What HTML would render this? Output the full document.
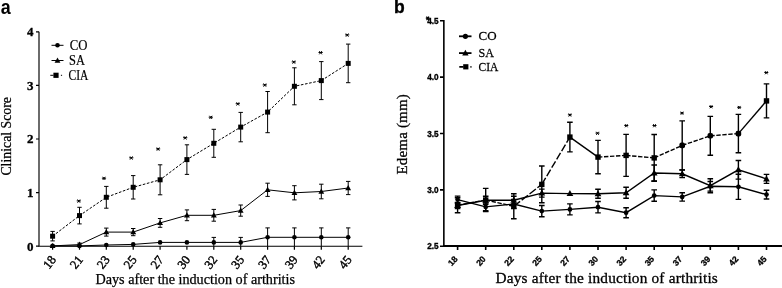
<!DOCTYPE html>
<html><head><meta charset="utf-8"><title>Figure</title>
<style>html,body{margin:0;padding:0;background:#fff;}body{width:782px;height:288px;overflow:hidden;font-family:"Liberation Sans",sans-serif;}svg{display:block;filter:grayscale(1);}</style>
</head><body>
<svg width="782" height="288" viewBox="0 0 782 288">
<rect width="782" height="288" fill="#fff"/>
<text transform="translate(0.8,14.1) scale(0.92,1)" font-family="Liberation Sans" font-weight="bold" font-size="19.5">a</text>
<text x="394" y="13.4" font-family="Liberation Sans" font-weight="bold" font-size="17.5" stroke="#000" stroke-width="0.35">b</text>
<g id="left">
<path d="M39.0 31.7V246.2H362.4" fill="none" stroke="#000" stroke-width="1.15"/>
<text transform="translate(33.6,250.6) scale(1.04,1.07)" font-family="Liberation Serif" font-weight="bold" font-size="12.5" stroke="#000" stroke-width="0.3" text-anchor="end">0</text>
<text transform="translate(33.6,197.0) scale(1.04,1.07)" font-family="Liberation Serif" font-weight="bold" font-size="12.5" stroke="#000" stroke-width="0.3" text-anchor="end">1</text>
<text transform="translate(33.6,143.4) scale(1.04,1.07)" font-family="Liberation Serif" font-weight="bold" font-size="12.5" stroke="#000" stroke-width="0.3" text-anchor="end">2</text>
<text transform="translate(33.6,89.8) scale(1.04,1.07)" font-family="Liberation Serif" font-weight="bold" font-size="12.5" stroke="#000" stroke-width="0.3" text-anchor="end">3</text>
<text transform="translate(33.6,36.2) scale(1.04,1.07)" font-family="Liberation Serif" font-weight="bold" font-size="12.5" stroke="#000" stroke-width="0.3" text-anchor="end">4</text>
<path d="M36.0 246.2H39.0M36.0 192.6H39.0M36.0 139.0H39.0M36.0 85.4H39.0M36.0 31.8H39.0M52.6 246.2V249.7M79.5 246.2V249.7M106.3 246.2V249.7M133.2 246.2V249.7M160.1 246.2V249.7M186.9 246.2V249.7M213.8 246.2V249.7M240.7 246.2V249.7M267.6 246.2V249.7M294.4 246.2V249.7M321.3 246.2V249.7M348.2 246.2V249.7" fill="none" stroke="#000" stroke-width="1.2"/>
<text transform="translate(56.7,259.8) rotate(-52)" font-family="Liberation Serif" font-size="12.6" stroke="#000" stroke-width="0.4" text-anchor="end">18</text>
<text transform="translate(83.6,259.8) rotate(-52)" font-family="Liberation Serif" font-size="12.6" stroke="#000" stroke-width="0.4" text-anchor="end">21</text>
<text transform="translate(110.4,259.8) rotate(-52)" font-family="Liberation Serif" font-size="12.6" stroke="#000" stroke-width="0.4" text-anchor="end">23</text>
<text transform="translate(137.3,259.8) rotate(-52)" font-family="Liberation Serif" font-size="12.6" stroke="#000" stroke-width="0.4" text-anchor="end">25</text>
<text transform="translate(164.2,259.8) rotate(-52)" font-family="Liberation Serif" font-size="12.6" stroke="#000" stroke-width="0.4" text-anchor="end">27</text>
<text transform="translate(191.0,259.8) rotate(-52)" font-family="Liberation Serif" font-size="12.6" stroke="#000" stroke-width="0.4" text-anchor="end">30</text>
<text transform="translate(217.9,259.8) rotate(-52)" font-family="Liberation Serif" font-size="12.6" stroke="#000" stroke-width="0.4" text-anchor="end">32</text>
<text transform="translate(244.8,259.8) rotate(-52)" font-family="Liberation Serif" font-size="12.6" stroke="#000" stroke-width="0.4" text-anchor="end">35</text>
<text transform="translate(271.7,259.8) rotate(-52)" font-family="Liberation Serif" font-size="12.6" stroke="#000" stroke-width="0.4" text-anchor="end">37</text>
<text transform="translate(298.5,259.8) rotate(-52)" font-family="Liberation Serif" font-size="12.6" stroke="#000" stroke-width="0.4" text-anchor="end">39</text>
<text transform="translate(325.4,259.8) rotate(-52)" font-family="Liberation Serif" font-size="12.6" stroke="#000" stroke-width="0.4" text-anchor="end">42</text>
<text transform="translate(352.3,259.8) rotate(-52)" font-family="Liberation Serif" font-size="12.6" stroke="#000" stroke-width="0.4" text-anchor="end">45</text>
<text x="95.5" y="284.0" font-family="Liberation Serif" font-size="14.2" stroke="#000" stroke-width="0.25" textLength="199.5" lengthAdjust="spacing">Days after the induction of arthritis</text>
<text transform="translate(10.6,175.6) rotate(-90)" font-family="Liberation Serif" font-size="13.8" stroke="#000" stroke-width="0.25" textLength="78.6" lengthAdjust="spacing">Clinical Score</text>
<path d="M51.5 45.3H63.5" stroke="#000" stroke-width="1.0" fill="none"/>
<circle cx="57.5" cy="45.3" r="2.3"/>
<text transform="translate(69.8,49.5) scale(0.95,1.02)" font-family="Liberation Serif" font-size="13.4" stroke="#000" stroke-width="0.2">CO</text>
<path d="M51.5 60.5H63.5" stroke="#000" stroke-width="1.0" fill="none"/>
<path d="M57.5 57.5L60.4 62.7H54.6Z"/>
<text transform="translate(69.0,64.7) scale(0.925,1.02)" font-family="Liberation Serif" font-size="13.4" stroke="#000" stroke-width="0.2">SA</text>
<path d="M50.3 75.3H53.5M60.9 75.3H62.1" stroke="#000" stroke-width="1.0" fill="none"/>
<rect x="53.4" y="72.7" width="5.2" height="5.2"/>
<text transform="translate(68.5,79.5) scale(0.86,1.02)" font-family="Liberation Serif" font-size="13.4" stroke="#000" stroke-width="0.2">CIA</text>
<polyline points="52.6,245.9 79.5,245.9 106.3,245.0 133.2,244.4 160.1,242.4 186.9,242.4 213.8,242.4 240.7,242.4 267.6,237.3 294.4,237.3 321.3,237.3 348.2,237.3" fill="none" stroke="#000" stroke-width="1.0"/>
<path d="M213.8 237.4V246.2M211.6 237.4H216.0M240.7 237.4V246.2M238.5 237.4H242.9M267.6 227.9V246.2M265.4 227.9H269.8M294.4 227.9V246.2M292.2 227.9H296.6M321.3 227.9V246.2M319.1 227.9H323.5M348.2 227.9V246.2M346.0 227.9H350.4" fill="none" stroke="#000" stroke-width="1.0"/>
<circle cx="52.6" cy="245.9" r="2.3"/>
<circle cx="79.5" cy="245.9" r="2.3"/>
<circle cx="106.3" cy="245.0" r="2.3"/>
<circle cx="133.2" cy="244.4" r="2.3"/>
<circle cx="160.1" cy="242.4" r="2.3"/>
<circle cx="186.9" cy="242.4" r="2.3"/>
<circle cx="213.8" cy="242.4" r="2.3"/>
<circle cx="240.7" cy="242.4" r="2.3"/>
<circle cx="267.6" cy="237.3" r="2.3"/>
<circle cx="294.4" cy="237.3" r="2.3"/>
<circle cx="321.3" cy="237.3" r="2.3"/>
<circle cx="348.2" cy="237.3" r="2.3"/>
<polyline points="52.6,245.9 79.5,244.6 106.3,232.1 133.2,232.1 160.1,222.9 186.9,215.3 213.8,215.3 240.7,210.6 267.6,189.8 294.4,192.8 321.3,191.5 348.2,188.0" fill="none" stroke="#000" stroke-width="1.0"/>
<path d="M52.6 245.4V246.2M50.4 245.4H54.8M79.5 243.1V246.2M77.3 243.1H81.7M106.3 228.1V236.1M104.1 228.1H108.5M104.1 236.1H108.5M133.2 228.5V235.7M131.0 228.5H135.4M131.0 235.7H135.4M160.1 218.5V227.3M157.9 218.5H162.3M157.9 227.3H162.3M186.9 209.9V220.7M184.8 209.9H189.1M184.8 220.7H189.1M213.8 209.4V221.2M211.6 209.4H216.0M211.6 221.2H216.0M240.7 205.0V216.2M238.5 205.0H242.9M238.5 216.2H242.9M267.6 183.2V196.4M265.4 183.2H269.8M265.4 196.4H269.8M294.4 185.7V199.9M292.2 185.7H296.6M292.2 199.9H296.6M321.3 184.2V198.8M319.1 184.2H323.5M319.1 198.8H323.5M348.2 181.4V194.6M346.0 181.4H350.4M346.0 194.6H350.4" fill="none" stroke="#000" stroke-width="1.0"/>
<path d="M52.6 242.9L55.5 248.1H49.7Z"/>
<path d="M79.5 241.6L82.4 246.8H76.5Z"/>
<path d="M106.3 229.1L109.3 234.3H103.4Z"/>
<path d="M133.2 229.1L136.2 234.3H130.3Z"/>
<path d="M160.1 219.9L163.0 225.1H157.1Z"/>
<path d="M186.9 212.3L189.9 217.5H184.0Z"/>
<path d="M213.8 212.3L216.8 217.5H210.9Z"/>
<path d="M240.7 207.6L243.6 212.8H237.8Z"/>
<path d="M267.6 186.8L270.5 192.0H264.6Z"/>
<path d="M294.4 189.8L297.4 195.0H291.5Z"/>
<path d="M321.3 188.5L324.2 193.7H318.4Z"/>
<path d="M348.2 185.0L351.1 190.2H345.2Z"/>
<polyline points="52.6,236.2 79.5,215.6 106.3,197.3 133.2,187.3 160.1,179.8 186.9,159.6 213.8,143.3 240.7,127.1 267.6,112.1 294.4,86.3 321.3,80.6 348.2,63.4" fill="none" stroke="#000" stroke-width="1.0" stroke-dasharray="2.6 1.6"/>
<path d="M52.6 231.4V240.9M50.4 231.4H54.8M50.4 240.9H54.8M79.5 207.3V223.9M77.3 207.3H81.7M77.3 223.9H81.7M106.3 186.4V208.2M104.1 186.4H108.5M104.1 208.2H108.5M133.2 175.6V199.0M131.0 175.6H135.4M131.0 199.0H135.4M160.1 164.8V194.8M157.9 164.8H162.3M157.9 194.8H162.3M186.9 144.8V174.4M184.8 144.8H189.1M184.8 174.4H189.1M213.8 129.3V157.3M211.6 129.3H216.0M211.6 157.3H216.0M240.7 112.4V141.8M238.5 112.4H242.9M238.5 141.8H242.9M267.6 91.5V132.7M265.4 91.5H269.8M265.4 132.7H269.8M294.4 67.8V104.8M292.2 67.8H296.6M292.2 104.8H296.6M321.3 61.6V99.6M319.1 61.6H323.5M319.1 99.6H323.5M348.2 44.1V82.7M346.0 44.1H350.4M346.0 82.7H350.4" fill="none" stroke="#000" stroke-width="1.0"/>
<rect x="50.1" y="233.7" width="5" height="5"/>
<rect x="77.0" y="213.1" width="5" height="5"/>
<rect x="103.8" y="194.8" width="5" height="5"/>
<rect x="130.7" y="184.8" width="5" height="5"/>
<rect x="157.6" y="177.3" width="5" height="5"/>
<rect x="184.4" y="157.1" width="5" height="5"/>
<rect x="211.3" y="140.8" width="5" height="5"/>
<rect x="238.2" y="124.6" width="5" height="5"/>
<rect x="265.1" y="109.6" width="5" height="5"/>
<rect x="291.9" y="83.8" width="5" height="5"/>
<rect x="318.8" y="78.1" width="5" height="5"/>
<rect x="345.7" y="60.9" width="5" height="5"/>
<path d="M76.70 200.90H80.90M77.50 202.70L80.10 199.50M77.50 199.50L80.10 202.70" fill="none" stroke="#000" stroke-width="1.0"/>
<path d="M101.90 178.20H106.10M102.70 180.00L105.30 176.80M102.70 176.80L105.30 180.00" fill="none" stroke="#000" stroke-width="1.0"/>
<path d="M129.20 157.80H133.40M130.00 159.60L132.60 156.40M130.00 156.40L132.60 159.60" fill="none" stroke="#000" stroke-width="1.0"/>
<path d="M156.00 148.90H160.20M156.80 150.70L159.40 147.50M156.80 147.50L159.40 150.70" fill="none" stroke="#000" stroke-width="1.0"/>
<path d="M183.10 137.70H187.30M183.90 139.50L186.50 136.30M183.90 136.30L186.50 139.50" fill="none" stroke="#000" stroke-width="1.0"/>
<path d="M208.70 117.20H212.90M209.50 119.00L212.10 115.80M209.50 115.80L212.10 119.00" fill="none" stroke="#000" stroke-width="1.0"/>
<path d="M235.70 103.70H239.90M236.50 105.50L239.10 102.30M236.50 102.30L239.10 105.50" fill="none" stroke="#000" stroke-width="1.0"/>
<path d="M262.70 84.90H266.90M263.50 86.70L266.10 83.50M263.50 83.50L266.10 86.70" fill="none" stroke="#000" stroke-width="1.0"/>
<path d="M291.70 61.90H295.90M292.50 63.70L295.10 60.50M292.50 60.50L295.10 63.70" fill="none" stroke="#000" stroke-width="1.0"/>
<path d="M318.50 52.50H322.70M319.30 54.30L321.90 51.10M319.30 51.10L321.90 54.30" fill="none" stroke="#000" stroke-width="1.0"/>
<path d="M345.10 34.90H349.30M345.90 36.70L348.50 33.50M345.90 33.50L348.50 36.70" fill="none" stroke="#000" stroke-width="1.0"/>
</g>
<g id="right">
<path d="M443.85 20.1V247.0" fill="none" stroke="#000" stroke-width="1.6"/>
<path d="M443.05 246.0H782" fill="none" stroke="#000" stroke-width="2.1"/>
<text transform="translate(438.6,249.3) scale(0.93,1)" font-family="Liberation Sans" font-weight="bold" font-size="8.8" stroke="#000" stroke-width="0.35" text-anchor="end">2.5</text>
<text transform="translate(438.6,192.9) scale(0.93,1)" font-family="Liberation Sans" font-weight="bold" font-size="8.8" stroke="#000" stroke-width="0.35" text-anchor="end">3.0</text>
<text transform="translate(438.6,136.5) scale(0.93,1)" font-family="Liberation Sans" font-weight="bold" font-size="8.8" stroke="#000" stroke-width="0.35" text-anchor="end">3.5</text>
<text transform="translate(438.6,80.1) scale(0.93,1)" font-family="Liberation Sans" font-weight="bold" font-size="8.8" stroke="#000" stroke-width="0.35" text-anchor="end">4.0</text>
<text transform="translate(438.6,23.7) scale(0.93,1)" font-family="Liberation Sans" font-weight="bold" font-size="8.8" stroke="#000" stroke-width="0.35" text-anchor="end">4.5</text>
<path d="M440.0 246.3H444.0M440.0 189.9H444.0M440.0 133.5H444.0M440.0 77.1H444.0M440.0 20.7H444.0M457.6 246.0V250.0M485.7 246.0V250.0M513.8 246.0V250.0M541.8 246.0V250.0M569.9 246.0V250.0M598.0 246.0V250.0M626.1 246.0V250.0M654.2 246.0V250.0M682.2 246.0V250.0M710.3 246.0V250.0M738.4 246.0V250.0M766.5 246.0V250.0" fill="none" stroke="#000" stroke-width="1.6"/>
<path d="M425.80 18.10H429.60M426.52 20.10L428.88 16.50M426.52 16.50L428.88 20.10" fill="none" stroke="#000" stroke-width="1.1"/>
<text transform="translate(458.2,259.5) rotate(-48)" font-family="Liberation Sans" font-weight="bold" font-size="8.6" stroke="#000" stroke-width="0.3" text-anchor="end">18</text>
<text transform="translate(486.3,259.5) rotate(-48)" font-family="Liberation Sans" font-weight="bold" font-size="8.6" stroke="#000" stroke-width="0.3" text-anchor="end">20</text>
<text transform="translate(514.4,259.5) rotate(-48)" font-family="Liberation Sans" font-weight="bold" font-size="8.6" stroke="#000" stroke-width="0.3" text-anchor="end">22</text>
<text transform="translate(542.4,259.5) rotate(-48)" font-family="Liberation Sans" font-weight="bold" font-size="8.6" stroke="#000" stroke-width="0.3" text-anchor="end">25</text>
<text transform="translate(570.5,259.5) rotate(-48)" font-family="Liberation Sans" font-weight="bold" font-size="8.6" stroke="#000" stroke-width="0.3" text-anchor="end">27</text>
<text transform="translate(598.6,259.5) rotate(-48)" font-family="Liberation Sans" font-weight="bold" font-size="8.6" stroke="#000" stroke-width="0.3" text-anchor="end">30</text>
<text transform="translate(626.7,259.5) rotate(-48)" font-family="Liberation Sans" font-weight="bold" font-size="8.6" stroke="#000" stroke-width="0.3" text-anchor="end">32</text>
<text transform="translate(654.8,259.5) rotate(-48)" font-family="Liberation Sans" font-weight="bold" font-size="8.6" stroke="#000" stroke-width="0.3" text-anchor="end">35</text>
<text transform="translate(682.8,259.5) rotate(-48)" font-family="Liberation Sans" font-weight="bold" font-size="8.6" stroke="#000" stroke-width="0.3" text-anchor="end">37</text>
<text transform="translate(710.9,259.5) rotate(-48)" font-family="Liberation Sans" font-weight="bold" font-size="8.6" stroke="#000" stroke-width="0.3" text-anchor="end">39</text>
<text transform="translate(739.0,259.5) rotate(-48)" font-family="Liberation Sans" font-weight="bold" font-size="8.6" stroke="#000" stroke-width="0.3" text-anchor="end">42</text>
<text transform="translate(767.1,259.5) rotate(-48)" font-family="Liberation Sans" font-weight="bold" font-size="8.6" stroke="#000" stroke-width="0.3" text-anchor="end">45</text>
<text x="495.5" y="283.4" font-family="Liberation Serif" font-size="15.3" stroke="#000" stroke-width="0.3" textLength="222.3" lengthAdjust="spacing">Days after the induction of arthritis</text>
<text transform="translate(407.4,174.6) rotate(-90)" font-family="Liberation Serif" font-size="15" stroke="#000" stroke-width="0.3" textLength="80.4" lengthAdjust="spacing">Edema (mm)</text>
<path d="M459 36.3H471.5" stroke="#000" stroke-width="1.8" fill="none"/>
<circle cx="465.4" cy="36.3" r="2.6"/>
<text transform="translate(478.5,40.1) scale(1.0,1.03)" font-family="Liberation Serif" font-size="13" stroke="#000" stroke-width="0.25">CO</text>
<path d="M459 53.1H471.5" stroke="#000" stroke-width="1.8" fill="none"/>
<path d="M465.4 49.8L468.6 55.5H462.2Z"/>
<text transform="translate(478.5,57.4) scale(0.93,1.03)" font-family="Liberation Serif" font-size="13" stroke="#000" stroke-width="0.25">SA</text>
<path d="M459.3 66.8H463.5M470.4 66.8H471.5" stroke="#000" stroke-width="1.8" fill="none"/>
<rect x="463.2" y="64.2" width="5.2" height="5.2"/>
<text transform="translate(478.5,71.1) scale(0.885,1.03)" font-family="Liberation Serif" font-size="13" stroke="#000" stroke-width="0.25">CIA</text>
<polyline points="457.6,199.6 485.7,206.9 513.8,204.0 541.8,211.1 569.9,209.4 598.0,207.2 626.1,212.7 654.2,195.6 682.2,196.9 710.3,186.3 738.4,186.8 766.5,194.6" fill="none" stroke="#000" stroke-width="1.4"/>
<path d="M457.6 196.1V203.1M454.8 196.1H460.4M454.8 203.1H460.4M485.7 203.1V210.7M482.9 203.1H488.5M482.9 210.7H488.5M513.8 199.5V208.5M511.0 199.5H516.6M511.0 208.5H516.6M541.8 205.5V216.7M539.0 205.5H544.6M539.0 216.7H544.6M569.9 203.9V214.9M567.1 203.9H572.7M567.1 214.9H572.7M598.0 201.5V212.9M595.2 201.5H600.8M595.2 212.9H600.8M626.1 207.7V217.7M623.3 207.7H628.9M623.3 217.7H628.9M654.2 189.9V201.3M651.4 189.9H657.0M651.4 201.3H657.0M682.2 192.7V201.1M679.4 192.7H685.0M679.4 201.1H685.0M710.3 181.5V191.1M707.5 181.5H713.1M707.5 191.1H713.1M738.4 174.2V199.4M735.6 174.2H741.2M735.6 199.4H741.2M766.5 190.2V199.0M763.7 190.2H769.3M763.7 199.0H769.3" fill="none" stroke="#000" stroke-width="1.4"/>
<circle cx="457.6" cy="199.6" r="2.35"/>
<circle cx="485.7" cy="206.9" r="2.35"/>
<circle cx="513.8" cy="204.0" r="2.35"/>
<circle cx="541.8" cy="211.1" r="2.35"/>
<circle cx="569.9" cy="209.4" r="2.35"/>
<circle cx="598.0" cy="207.2" r="2.35"/>
<circle cx="626.1" cy="212.7" r="2.35"/>
<circle cx="654.2" cy="195.6" r="2.35"/>
<circle cx="682.2" cy="196.9" r="2.35"/>
<circle cx="710.3" cy="186.3" r="2.35"/>
<circle cx="738.4" cy="186.8" r="2.35"/>
<circle cx="766.5" cy="194.6" r="2.35"/>
<polyline points="457.6,205.5 485.7,200.3 513.8,200.3 541.8,193.1 569.9,193.6 598.0,193.8 626.1,192.7 654.2,173.0 682.2,173.8 710.3,185.7 738.4,169.8 766.5,178.9" fill="none" stroke="#000" stroke-width="1.4"/>
<path d="M457.6 202.5V208.5M454.8 202.5H460.4M454.8 208.5H460.4M485.7 196.3V204.3M482.9 196.3H488.5M482.9 204.3H488.5M513.8 196.3V204.3M511.0 196.3H516.6M511.0 204.3H516.6M541.8 189.1V197.1M539.0 189.1H544.6M539.0 197.1H544.6M598.0 189.3V198.3M595.2 189.3H600.8M595.2 198.3H600.8M626.1 187.2V198.2M623.3 187.2H628.9M623.3 198.2H628.9M654.2 165.0V181.0M651.4 165.0H657.0M651.4 181.0H657.0M682.2 170.0V177.6M679.4 170.0H685.0M679.4 177.6H685.0M710.3 178.7V192.7M707.5 178.7H713.1M707.5 192.7H713.1M738.4 160.5V179.1M735.6 160.5H741.2M735.6 179.1H741.2M766.5 174.4V183.4M763.7 174.4H769.3M763.7 183.4H769.3" fill="none" stroke="#000" stroke-width="1.4"/>
<path d="M457.6 202.0L461.0 208.0H454.2Z"/>
<path d="M485.7 196.8L489.0 202.8H482.3Z"/>
<path d="M513.8 196.8L517.1 202.8H510.4Z"/>
<path d="M541.8 189.6L545.2 195.6H538.5Z"/>
<path d="M569.9 190.1L573.3 196.1H566.6Z"/>
<path d="M598.0 190.3L601.4 196.3H594.6Z"/>
<path d="M626.1 189.2L629.4 195.2H622.7Z"/>
<path d="M654.2 169.5L657.5 175.5H650.8Z"/>
<path d="M682.2 170.3L685.6 176.3H678.9Z"/>
<path d="M710.3 182.2L713.7 188.2H707.0Z"/>
<path d="M738.4 166.3L741.8 172.3H735.0Z"/>
<path d="M766.5 175.4L769.8 181.4H763.1Z"/>
<polyline points="457.6,205.2 485.7,200.0" fill="none" stroke="#000" stroke-width="1.4" stroke-dasharray="4.4 1.6"/>
<polyline points="485.7,200.0 513.8,206.3" fill="none" stroke="#000" stroke-width="1.4" stroke-dasharray="4.4 1.6"/>
<polyline points="513.8,206.3 541.8,184.4" fill="none" stroke="#000" stroke-width="1.4" stroke-dasharray="8 2"/>
<polyline points="541.8,184.4 569.9,137.1" fill="none" stroke="#000" stroke-width="1.4" stroke-dasharray="7.5 2.2"/>
<polyline points="569.9,137.1 598.0,157.1" fill="none" stroke="#000" stroke-width="1.4"/>
<polyline points="598.0,157.1 626.1,155.4" fill="none" stroke="#000" stroke-width="1.4" stroke-dasharray="4.4 1.6"/>
<polyline points="626.1,155.4 654.2,157.9" fill="none" stroke="#000" stroke-width="1.4" stroke-dasharray="4.4 1.6"/>
<polyline points="654.2,157.9 682.2,145.4" fill="none" stroke="#000" stroke-width="1.4" stroke-dasharray="4.4 1.6"/>
<polyline points="682.2,145.4 710.3,135.8" fill="none" stroke="#000" stroke-width="1.4" stroke-dasharray="4.4 1.6"/>
<polyline points="710.3,135.8 738.4,133.6" fill="none" stroke="#000" stroke-width="1.4" stroke-dasharray="4.4 1.6"/>
<polyline points="738.4,133.6 766.5,100.9" fill="none" stroke="#000" stroke-width="1.4"/>
<path d="M457.6 197.7V212.7M454.8 197.7H460.4M454.8 212.7H460.4M485.7 188.4V211.6M482.9 188.4H488.5M482.9 211.6H488.5M513.8 193.8V218.8M511.0 193.8H516.6M511.0 218.8H516.6M541.8 166.0V202.8M539.0 166.0H544.6M539.0 202.8H544.6M569.9 122.3V151.9M567.1 122.3H572.7M567.1 151.9H572.7M598.0 140.4V173.8M595.2 140.4H600.8M595.2 173.8H600.8M626.1 134.4V176.4M623.3 134.4H628.9M623.3 176.4H628.9M654.2 134.5V181.3M651.4 134.5H657.0M651.4 181.3H657.0M682.2 120.9V169.9M679.4 120.9H685.0M679.4 169.9H685.0M710.3 116.4V155.2M707.5 116.4H713.1M707.5 155.2H713.1M738.4 114.4V152.8M735.6 114.4H741.2M735.6 152.8H741.2M766.5 83.9V117.9M763.7 83.9H769.3M763.7 117.9H769.3" fill="none" stroke="#000" stroke-width="1.4"/>
<rect x="454.9" y="202.5" width="5.4" height="5.4"/>
<rect x="483.0" y="197.3" width="5.4" height="5.4"/>
<rect x="511.1" y="203.6" width="5.4" height="5.4"/>
<rect x="539.1" y="181.7" width="5.4" height="5.4"/>
<rect x="567.2" y="134.4" width="5.4" height="5.4"/>
<rect x="595.3" y="154.4" width="5.4" height="5.4"/>
<rect x="623.4" y="152.7" width="5.4" height="5.4"/>
<rect x="651.5" y="155.2" width="5.4" height="5.4"/>
<rect x="679.4" y="142.6" width="5.6" height="5.6" rx="2"/>
<rect x="707.5" y="133.0" width="5.6" height="5.6" rx="2"/>
<rect x="735.6" y="130.8" width="5.6" height="5.6" rx="2"/>
<rect x="763.8" y="98.2" width="5.4" height="5.4"/>
<path d="M567.90 114.80H571.90M568.66 116.55L571.14 113.45M568.66 113.45L571.14 116.55" fill="none" stroke="#000" stroke-width="1.0"/>
<path d="M595.50 133.10H599.50M596.26 134.85L598.74 131.75M596.26 131.75L598.74 134.85" fill="none" stroke="#000" stroke-width="1.0"/>
<path d="M624.30 125.50H628.30M625.06 127.25L627.54 124.15M625.06 124.15L627.54 127.25" fill="none" stroke="#000" stroke-width="1.0"/>
<path d="M652.50 125.50H656.50M653.26 127.25L655.74 124.15M653.26 124.15L655.74 127.25" fill="none" stroke="#000" stroke-width="1.0"/>
<path d="M680.00 113.00H684.00M680.76 114.75L683.24 111.65M680.76 111.65L683.24 114.75" fill="none" stroke="#000" stroke-width="1.0"/>
<path d="M709.10 106.50H713.10M709.86 108.25L712.34 105.15M709.86 105.15L712.34 108.25" fill="none" stroke="#000" stroke-width="1.0"/>
<path d="M737.20 107.30H741.20M737.96 109.05L740.44 105.95M737.96 105.95L740.44 109.05" fill="none" stroke="#000" stroke-width="1.0"/>
<path d="M764.30 72.50H768.30M765.06 74.25L767.54 71.15M765.06 71.15L767.54 74.25" fill="none" stroke="#000" stroke-width="1.0"/>
</g>
</svg></body></html>
